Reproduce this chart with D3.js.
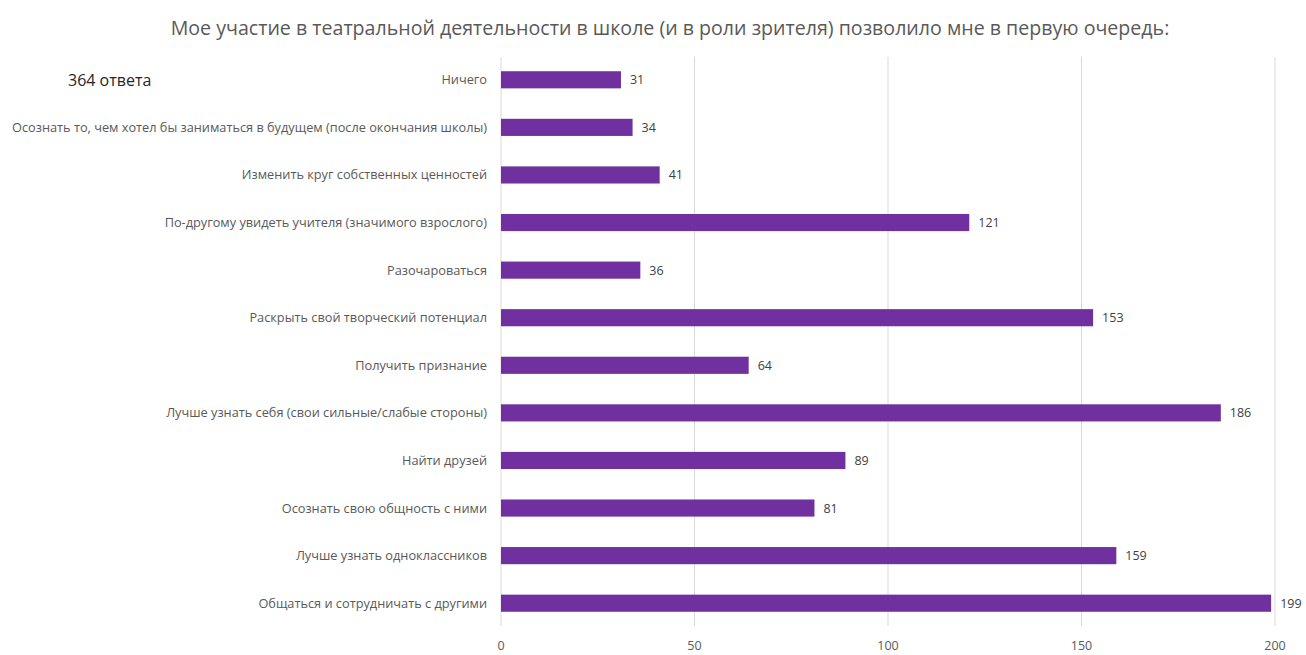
<!DOCTYPE html>
<html><head><meta charset="utf-8">
<script src="https://cdn.jsdelivr.net/npm/d3@7"></script>
<style>
html,body{margin:0;padding:0;background:#fff;}
svg{display:block;}
</style></head>
<body>
<svg id="chart" width="1306" height="655"></svg>
<script>
// Answers, in display order (top to bottom)
const categories = [
  "Ничего",
  "Осознать то, чем хотел бы заниматься в будущем (после окончания школы)",
  "Изменить круг собственных ценностей",
  "По-другому увидеть учителя (значимого взрослого)",
  "Разочароваться",
  "Раскрыть свой творческий потенциал",
  "Получить признание",
  "Лучше узнать себя (свои сильные/слабые стороны)",
  "Найти друзей",
  "Осознать свою общность с ними",
  "Лучше узнать одноклассников",
  "Общаться и сотрудничать с другими"
];
const counts = [31, 34, 41, 121, 36, 153, 64, 186, 89, 81, 159, 199];
const xTicks = [0, 50, 100, 150, 200];
const titleText = "Мое участие в театральной деятельности в школе (и в роли зрителя) позволило мне в первую очередь:";
const totalText = "364 ответа";

const font = "'Open Sans',sans-serif";
const svg = d3.select("#chart");

const x = d3.scaleLinear().domain([0, 200]).range([501, 1275]);
const y = d3.scaleBand().domain(categories).range([56, 627]).paddingInner(0.64).paddingOuter(0.32);

// vertical gridlines
svg.append("g").selectAll("line").data(xTicks).join("line")
  .attr("x1", d => x(d)).attr("x2", d => x(d))
  .attr("y1", 57).attr("y2", 626)
  .attr("stroke", "#d9d9d9").attr("stroke-width", 1);

// x tick labels
svg.append("g").selectAll("text").data(xTicks).join("text")
  .attr("x", d => x(d)).attr("y", 650)
  .attr("text-anchor", "middle")
  .attr("font-family", font).attr("font-size", 12.5)
  .attr("fill", "#595959")
  .text(d => d);

// bars
svg.append("g").selectAll("rect").data(categories).join("rect")
  .attr("x", x(0))
  .attr("y", d => y(d))
  .attr("width", (d, i) => x(counts[i]) - x(0))
  .attr("height", y.bandwidth())
  .attr("fill", "#7030a0");

// value labels
svg.append("g").selectAll("text").data(categories).join("text")
  .attr("x", (d, i) => x(counts[i]) + 9)
  .attr("y", d => y(d) + y.bandwidth() / 2 + 4.5)
  .attr("font-family", font).attr("font-size", 12.5)
  .attr("fill", "#404040")
  .text((d, i) => counts[i]);

// category labels
svg.append("g").selectAll("text").data(categories).join("text")
  .attr("x", 487)
  .attr("y", d => y(d) + y.bandwidth() / 2 + 4.5)
  .attr("text-anchor", "end")
  .attr("font-family", font).attr("font-size", 12.75)
  .attr("fill", "#595959")
  .text(d => d);

// title
svg.append("text")
  .attr("x", 670).attr("y", 35)
  .attr("text-anchor", "middle")
  .attr("font-family", font).attr("font-size", 19.6)
  .attr("fill", "#595959")
  .text(titleText);

// response count
svg.append("text")
  .attr("x", 68).attr("y", 86)
  .attr("font-family", font).attr("font-size", 16)
  .attr("fill", "#262626")
  .text(totalText);
</script>
</body></html>
